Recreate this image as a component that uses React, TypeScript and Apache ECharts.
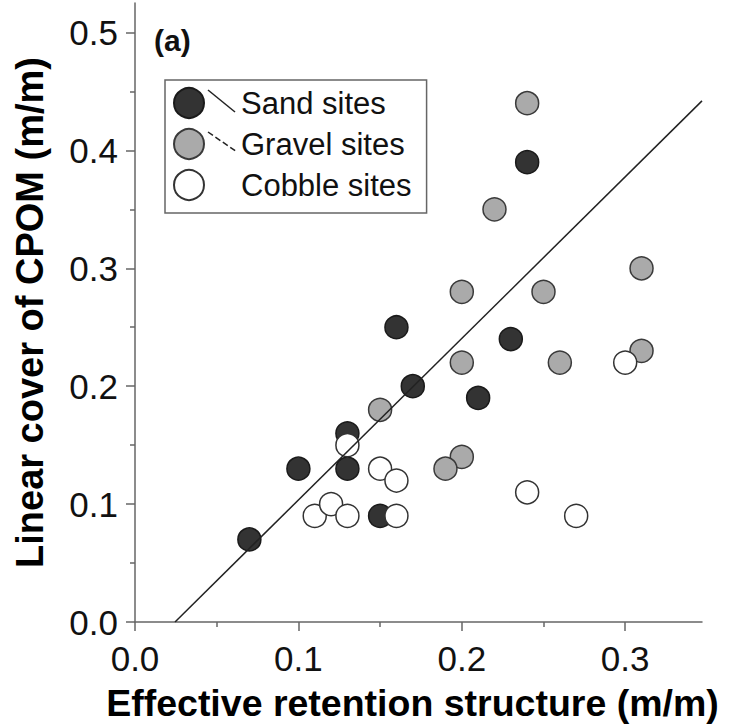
import React, { useEffect, useRef } from "react";
import * as echarts from "echarts";

// Sand sites
const sandX = [0.07, 0.10, 0.13, 0.13, 0.15, 0.16, 0.17, 0.21, 0.23, 0.24];
const sandY = [0.07, 0.13, 0.16, 0.13, 0.09, 0.25, 0.20, 0.19, 0.24, 0.39];
// Gravel sites
const gravelX = [0.24, 0.22, 0.20, 0.25, 0.31, 0.20, 0.26, 0.31, 0.15, 0.20, 0.19];
const gravelY = [0.44, 0.35, 0.28, 0.28, 0.30, 0.22, 0.22, 0.23, 0.18, 0.14, 0.13];
// Cobble sites
const cobbleX = [0.13, 0.15, 0.16, 0.11, 0.12, 0.13, 0.16, 0.24, 0.27, 0.30];
const cobbleY = [0.15, 0.13, 0.12, 0.09, 0.10, 0.09, 0.09, 0.11, 0.09, 0.22];
// Regression line end points
const fitX = [0.0245, 0.347];
const fitY = [0.0, 0.442];

const seriesNames = ["Sand sites", "Gravel sites", "Cobble sites"];
const xMajorTicks = [0, 0.1, 0.2, 0.3];
const xMinorTicks = [0.05, 0.15, 0.25];
const yMajorTicks = [0, 0.1, 0.2, 0.3, 0.4, 0.5];
const yMinorTicks = [0.05, 0.15, 0.25, 0.35, 0.45];

const zip = (xs: number[], ys: number[]) => xs.map((x, i) => [x, ys[i]]);

const FONT = "'Liberation Sans', Arial, Helvetica, sans-serif";

export default function App() {
  const ref = useRef<HTMLDivElement>(null);
  useEffect(() => {
    if (!ref.current) return;
    const chart = echarts.init(ref.current, undefined, { renderer: "svg" });
    const axisColor = "#666";
    const fmt = (v: number) => v.toFixed(1);
    const markerBorder = 1.5;
    chart.setOption({
      animation: false,
      backgroundColor: "#fff",
      grid: { left: 135, top: 3, right: 27, bottom: 102, outerBoundsMode: "none", containLabel: false },
      xAxis: [
        {
          type: "value",
          min: 0,
          max: 0.347,
          position: "bottom",
          name: "Effective retention structure (m/m)",
          nameLocation: "middle",
          nameGap: 62,
          nameTextStyle: { fontSize: 37.5, fontWeight: "bold", fontFamily: FONT, color: "#000", padding: [0, 12, 0, 0] },
          axisLine: { show: true, onZero: false, lineStyle: { color: axisColor, width: 1.5 } },
          axisTick: { show: true, customValues: xMajorTicks, length: 9, inside: false, lineStyle: { color: axisColor, width: 1.5 } },
          axisLabel: { customValues: xMajorTicks, formatter: fmt, fontSize: 35, fontFamily: FONT, color: "#111", margin: 19 },
          splitLine: { show: false },
        },
        {
          type: "value",
          min: 0,
          max: 0.347,
          position: "bottom",
          axisLine: { show: false, onZero: false },
          axisTick: { show: true, customValues: xMinorTicks, length: 5, inside: false, lineStyle: { color: axisColor, width: 1.5 } },
          axisLabel: { show: false },
          splitLine: { show: false },
        },
      ],
      yAxis: [
        {
          type: "value",
          min: 0,
          max: 0.525,
          position: "left",
          name: "Linear cover of CPOM (m/m)",
          nameLocation: "middle",
          nameGap: 86,
          nameTextStyle: { fontSize: 38, fontWeight: "bold", fontFamily: FONT, color: "#000" },
          axisLine: { show: true, onZero: false, lineStyle: { color: axisColor, width: 1.5 } },
          axisTick: { show: true, customValues: yMajorTicks, length: 9, inside: false, lineStyle: { color: axisColor, width: 1.5 } },
          axisLabel: { customValues: yMajorTicks, formatter: fmt, fontSize: 35, fontFamily: FONT, color: "#111", margin: 17 },
          splitLine: { show: false },
        },
        {
          type: "value",
          min: 0,
          max: 0.525,
          position: "left",
          axisLine: { show: false, onZero: false },
          axisTick: { show: true, customValues: yMinorTicks, length: 5, inside: false, lineStyle: { color: axisColor, width: 1.5 } },
          axisLabel: { show: false },
          splitLine: { show: false },
        },
      ],
      legend: {
        data: seriesNames,
        orient: "vertical",
        left: 165,
        top: 80,
        padding: [7, 15, 12, 8],
        itemWidth: 30,
        itemHeight: 30,
        itemGap: 9,
        icon: "circle",
        borderColor: "#666",
        borderWidth: 1.5,
        backgroundColor: "#fff",
        textStyle: { fontSize: 31, fontFamily: FONT, color: "#111", padding: [0, 0, 0, 32] },
      },
      graphic: [
        { type: "text", left: 154, top: 25, style: { text: "(a)", font: `bold 30px ${FONT}`, fill: "#111" } },
        { type: "line", shape: { x1: 208, y1: 90, x2: 235, y2: 112 }, style: { stroke: "#222", lineWidth: 1.5 }, z: 10 },
        { type: "line", shape: { x1: 208, y1: 132, x2: 237, y2: 152 }, style: { stroke: "#222", lineWidth: 1.5, lineDash: [6, 3] }, z: 10 },
      ],
      series: [
        {
          name: "Sand sites",
          type: "scatter",
          data: zip(sandX, sandY),
          symbol: "circle",
          symbolSize: 23,
          itemStyle: { color: "#333", borderColor: "#1a1a1a", borderWidth: markerBorder, opacity: 1 },
          z: 2,
        },
        {
          name: "Gravel sites",
          type: "scatter",
          data: zip(gravelX, gravelY),
          symbol: "circle",
          symbolSize: 23,
          itemStyle: { color: "#aaa", borderColor: "#3a3a3a", borderWidth: markerBorder, opacity: 1 },
          z: 2,
        },
        {
          name: "Cobble sites",
          type: "scatter",
          data: zip(cobbleX, cobbleY),
          symbol: "circle",
          symbolSize: 23,
          itemStyle: { color: "#fff", borderColor: "#333", borderWidth: markerBorder, opacity: 1 },
          z: 2,
        },
        {
          name: "Fit",
          type: "line",
          data: zip(fitX, fitY),
          symbol: "none",
          lineStyle: { color: "#222", width: 1.5 },
          z: 3,
          silent: true,
        },
      ],
    });
    return () => chart.dispose();
  }, []);
  return <div ref={ref} style={{ position: "fixed", left: 0, top: 0, width: 729, height: 724 }} />;
}
